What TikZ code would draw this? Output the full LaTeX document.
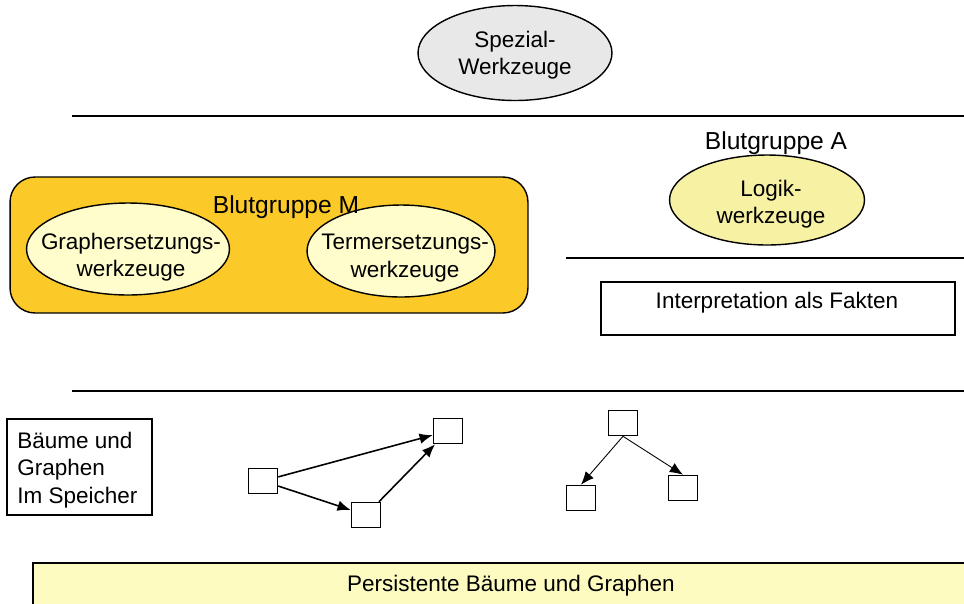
\documentclass[tikz,border=0pt]{standalone}
\usepackage{fontspec}
\setmainfont{Liberation Sans}
\usepackage{tikz}
\usetikzlibrary{shapes.geometric}
\usetikzlibrary{arrows.meta}
\usetikzlibrary{positioning}
\definecolor{gruppeM}{HTML}{FCCA28}
\definecolor{hellgelb}{HTML}{FFFDCC}
\definecolor{logikgelb}{HTML}{F7F1A4}
\definecolor{persgelb}{HTML}{FDFBC0}
\definecolor{spezgrau}{HTML}{E8E8E8}
\tikzstyle{txt}=[font=\fontsize{12.8}{15.6}\selectfont, inner sep=0pt]
\tikzstyle{head}=[font=\fontsize{14}{16}\selectfont, inner sep=0pt]
\tikzstyle{tool}=[ellipse, draw=black, line width=0.8pt, inner sep=0pt]
\tikzstyle{kasten}=[rectangle, draw=black, line width=0.8pt, inner sep=0pt]
\tikzstyle{knoten}=[rectangle, draw=black, line width=0.9pt, minimum width=0.58cm, minimum height=0.5cm, inner sep=0pt]
\tikzstyle{trenner}=[line width=0.8pt]
\tikzstyle{pfeil}=[-{Latex[length=7.5pt,width=6pt]}]

\begin{document}
\begin{tikzpicture}[x=0.02cm, y=-0.02cm]
\clip (0,0) rectangle (964,603);
\node[tool, fill=spezgrau, minimum width=3.88cm, minimum height=1.9cm] (spez) at (515,53){};
\node[txt, align=center] (spezT) at (515,55){Spezial-\\Werkzeuge};
\coordinate (l1a) at (72,116);
\coordinate (l1b) at (964,116);
\draw[trenner](l1a) -- (l1b);
\node[head] (grA) at (776,143){Blutgruppe A};
\node[tool, fill=logikgelb, minimum width=3.9cm, minimum height=1.8cm] (logik) at (767,200){};
\node[txt, align=center] (logikT) at (771,204){Logik-\\werkzeuge};
\node[kasten, fill=gruppeM, rounded corners=0.5cm, minimum width=10.36cm, minimum height=2.72cm] (grM) at (269,245){};
\node[tool, fill=hellgelb, minimum width=4.06cm, minimum height=1.84cm] (graph) at (128,249){};
\node[txt, align=center] (graphT) at (131,257){Graphersetzungs-\\werkzeuge};
\node[tool, fill=hellgelb, minimum width=3.76cm, minimum height=1.84cm] (term) at (401,251){};
\node[txt, align=center] (termT) at (405,258){Termersetzungs-\\werkzeuge};
\node[head] (grMtxt) at (286,207){Blutgruppe M};
\coordinate (l2a) at (566,258);
\coordinate (l2b) at (964,258);
\draw[trenner](l2a) -- (l2b);
\node[kasten, minimum width=7.08cm, minimum height=1.06cm] (fakten) at (778,308.5){};
\node[txt] (faktenT) at (777,303){Interpretation als Fakten};
\coordinate (l3a) at (72,391);
\coordinate (l3b) at (964,391);
\draw[trenner](l3a) -- (l3b);
\node[kasten, minimum width=2.9cm, minimum height=1.92cm] (speicher) at (79.5,467){};
\node[txt, align=left, anchor=west] (speicherT) at (17,470){B\"aume und\\Graphen\\Im Speicher};
\node[knoten] (ga) at (263,481){};
\node[knoten] (gb) at (366,515){};
\node[knoten] (gc) at (448,431){};
\draw[pfeil, line width=0.9pt](ga) -- (gc);
\draw[pfeil, line width=0.9pt](ga) -- (gb);
\draw[pfeil, line width=0.9pt](gb) -- (gc);
\node[knoten] (troot) at (623,423){};
\node[knoten] (tleft) at (581,498){};
\node[knoten] (tright) at (683,488){};
\draw[pfeil, line width=0.5pt](troot.south) -- (tleft.north);
\draw[pfeil, line width=0.5pt](troot.south) -- (tright.north);
\node[kasten, fill=persgelb, minimum width=19.12cm, minimum height=0.88cm] (persist) at (511,585){};
\node[txt] (persistT) at (511,586){Persistente B\"aume und Graphen};
\end{tikzpicture}
\end{document}
